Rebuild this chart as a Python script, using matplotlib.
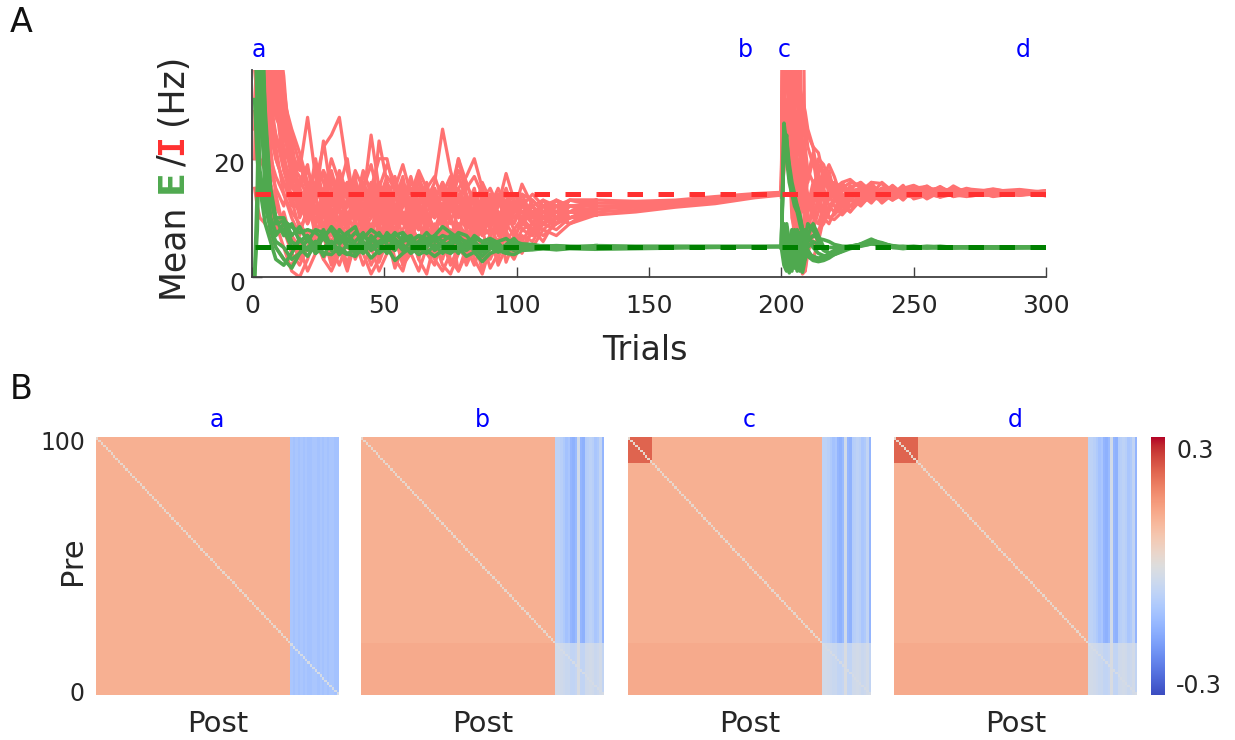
import numpy as np
from matplotlib import pyplot as plt
from matplotlib.transforms import ScaledTranslation

# all trace values below are hand estimates, a thinned
# set of traces (the original has many more). the matrices are built from
# block levels and column stripes that could be read, the cell by cell noise
# of the original could not be read and is left out.

x_early = [1, 2, 3, 5, 7, 9,
           12, 15, 18, 21, 24, 27, 30, 33, 36, 39,
           42, 45, 48, 51, 54, 57, 60, 63, 66, 69,
           72, 75, 78, 81, 84, 87, 90, 93, 96, 99, 102,
           106, 110, 115, 120, 130]
x_tail = [130, 145, 160, 175, 190, 199]
x_post = [200, 201, 202, 203, 204, 205, 206, 207, 208, 209, 210,
          212, 214, 216, 218, 220, 223, 226, 230, 234, 238,
          242, 246, 250, 255, 260, 265, 270, 280, 290, 300]

red_early = [
    [60, 50, 42, 36, 34, 30,
     22, 18, 15, 12, 16, 22, 24, 27, 18, 12,
     9, 14, 12, 7, 11, 16, 9, 13, 8, 12,
     10, 13, 8, 12, 15, 9, 13, 11, 8, 12, 11,
     9, 12, 10, 13, 12],
    [70, 55, 45, 38, 33, 28,
     25, 21, 18, 27, 17, 12, 9, 13, 10, 14,
     12, 8, 11, 14, 9, 12, 15, 10, 13, 16,
     25, 18, 13, 9, 12, 8, 11, 14, 10, 12, 10,
     13, 11, 9, 12, 11],
    [45, 60, 50, 44, 40, 35,
     28, 23, 14, 10, 13, 23, 14, 9, 12, 16,
     13, 24, 15, 10, 8, 12, 15, 11, 9, 13,
     16, 12, 20, 14, 10, 7, 10, 13, 11, 9, 13,
     10, 12, 11, 10, 11],
    [80, 66, 52, 40, 30, 24,
     18, 15, 20, 14, 9, 12, 17, 12, 15, 9,
     14, 10, 23, 16, 12, 10, 13, 8, 15, 11,
     9, 12, 15, 17, 20, 15, 11, 9, 13, 11, 12,
     11, 9, 12, 11, 10.5],
    [30, 38, 50, 36, 22, 14,
     8, 4, 2, 5, 9, 3, 1, 4, 8, 3,
     6, 2, 5, 9, 3, 1, 6, 10, 4, 2,
     7, 3, 1, 5, 2, 6, 1.5, 4, 7, 5, 8,
     7, 9, 8, 10, 10.5],
    [20, 45, 58, 30, 15, 9,
     5, 1, 0, 3, 7, 11, 5, 2, 6, 10,
     4, 0.5, 3, 7, 1.5, 5, 9, 3, 0.5, 6,
     2, 0.5, 4, 8, 3, 0.5, 5, 9, 2.5, 6, 4,
     8, 6, 10, 9, 11],
    [66, 72, 48, 34, 26, 20,
     16, 12, 16, 19, 11, 8, 15, 11, 8, 14,
     10, 15, 20, 20, 14, 9, 12, 15, 11, 8,
     12, 16, 11, 14, 10, 13, 15, 12, 17.5, 13, 9,
     12, 10, 11, 13, 12.5],
    [90, 58, 44, 37, 31, 27,
     24, 20, 13, 9, 15, 18, 10, 15, 20, 11,
     8, 13, 9, 16, 13, 17, 10, 8, 12, 15,
     11, 14, 20, 16, 12, 9, 12, 10, 8, 11, 14,
     10, 13, 12, 11, 11.5],
    [55, 62, 41, 33, 29, 22,
     14, 10, 7, 12, 20, 13, 8, 12, 16, 10,
     15, 12, 7, 10, 14, 10, 8, 17, 13, 10,
     15, 10, 7, 12, 9, 14, 10, 8, 13, 11, 15.7,
     12, 9, 11, 12, 11],
    [75, 68, 58, 45, 42, 38,
     26, 16, 11, 14, 18, 10, 13, 18, 14, 17,
     9, 11, 16, 12, 10, 15, 12, 17, 9, 11,
     14, 17, 13, 10, 14, 11, 8, 12, 14, 10, 11,
     11, 12, 13, 10, 12],
    [100, 80, 60, 50, 45, 36,
     27, 24, 19, 15, 9, 14, 20, 16, 10, 12,
     18, 14, 9, 13, 17, 12, 16, 14, 11, 8,
     10, 12, 17, 13, 8, 12, 14, 10, 9, 12, 10,
     12, 10, 9, 11, 13],
    [25, 40, 30, 18, 12, 8,
     11, 6, 3, 7, 4, 9, 3, 7, 2, 8,
     4, 8, 2.5, 6, 10, 2, 7, 3, 9, 5,
     3, 8, 1, 4, 7, 1, 6, 3, 8, 4, 7,
     6, 9, 11, 9, 12],
    [50, 36, 28, 22, 18, 15,
     12, 17, 10, 13, 7, 11, 14, 8, 11, 7,
     11, 7, 12, 8, 11, 7, 9, 6, 10, 7,
     11, 7, 9, 6, 10, 7, 8, 6, 9, 7, 9,
     8, 10, 9, 11, 11],
    [85, 70, 55, 47, 38, 30,
     21, 13, 8, 11, 14, 7, 10, 6, 13, 9,
     7, 12, 8, 13, 7, 10, 6, 12, 8, 14,
     9, 6, 12, 9, 7, 10, 12, 7, 11, 8, 10,
     7, 10, 13, 12, 12],
    [40, 52, 46, 42, 36, 32,
     24, 19, 17, 13, 19, 16, 12, 17, 13, 18,
     15, 19, 13, 17, 15, 19, 14, 18, 15, 17,
     13, 15, 18, 15, 17, 14, 12, 15, 12, 14, 12,
     14, 12, 11, 13, 13],
    [110, 90, 70, 56, 48, 40,
     30, 25, 21, 16, 14, 18, 15, 11, 16, 13,
     16, 13, 15, 19, 16, 13, 17, 12, 15, 13,
     16, 13, 15, 12, 14, 11, 13, 10, 13, 10, 12,
     10, 11, 12, 12, 12],
    [120, 100, 85, 70, 56, 50,
     32, 22, 13, 9, 12, 10, 14, 11, 9, 11,
     10, 8, 13, 11, 9, 13, 11, 8, 11, 13,
     9, 11, 14, 10, 8, 12, 9, 11, 9, 13, 9,
     11, 10, 12, 10, 11.5],
    [60, 50, 45, 40, 35, 30,
     18, 13, 11, 16, 13, 15, 11, 13, 16, 12,
     14, 11, 12, 15, 10, 14, 10, 13, 16, 10,
     12, 9, 14, 11, 13, 9, 11, 13, 9.5, 11, 13,
     9, 12, 11, 12, 12],
    [45, 40, 35, 32, 28, 24,
     20, 16, 14, 12, 10, 8, 12, 16, 9, 13,
     11, 15, 10, 8, 12, 9, 13, 15, 10, 12,
     14, 10, 11, 8, 11, 13, 9, 14, 12, 9, 12,
     11, 9, 10, 11, 10.5],
    [95, 75, 62, 54, 47, 34,
     26, 22, 12, 15, 11, 14, 9, 10, 13, 15,
     8, 10, 14, 9, 12, 14, 8, 11, 13, 15,
     8, 13, 10, 12, 6, 11, 14, 9, 10, 13, 8,
     9, 11, 12, 13, 13],
    [35, 30, 26, 22, 20, 17,
     14, 11, 9, 7, 6, 8, 11, 7, 9, 6,
     9, 6, 8, 6, 8, 11, 7, 6, 8, 6,
     8, 6, 9, 7, 8, 5, 7, 9, 6, 8, 6,
     9, 8, 10, 11, 10.5],
    [52, 42, 36, 30, 24, 20,
     16, 14, 12, 10, 12, 9, 7, 9, 7, 8,
     7, 9, 6, 10, 7, 8, 11, 9, 6, 9,
     7, 10, 6, 8, 6, 9, 7, 10, 7, 6, 10,
     8, 11, 10, 10, 11],
    [75, 60, 50, 42, 37, 33,
     29, 19, 15, 18, 15, 13, 16, 14, 12, 15,
     12, 16, 14, 11, 15, 13, 11, 15, 12, 14,
     12, 15, 11, 13, 11, 16, 13, 12, 15, 11, 14,
     13, 11, 13, 12, 12.5],
    [110, 85, 72, 60, 52, 44,
     34, 17, 15, 11, 16, 12, 18, 13, 15, 11,
     17, 15, 12, 16, 11, 15, 13, 16, 14, 12,
     14, 11, 13, 16, 12, 13, 10, 14, 11, 13, 11,
     12, 13, 10, 11, 13],
    [15, 12, 10, 9, 7, 5,
     3, 2, 5, 1, 4, 7, 2, 5, 1, 6,
     2, 5, 1, 4, 7, 2, 4, 1, 5, 3,
     1, 4, 7, 2, 5, 3, 7, 2, 5, 3, 6,
     5, 8, 7, 9, 10.5],
    [28, 24, 20, 18, 16, 12,
     9, 7, 5, 8, 6, 3, 6, 9, 5, 4,
     8, 5, 9, 4, 6, 3, 8, 5, 7, 4,
     6, 2, 5, 3, 6, 8, 3, 6, 4, 7, 5,
     8, 7, 9, 10, 11],
]

green_early = [
    [60, 50, 45, 28, 14, 9,
     9.5, 8.5, 7.5, 8, 7.5, 6.5, 8.5, 7, 6, 7.5,
     6.5, 8, 7, 6.5, 7, 7.5, 6, 7, 6.5, 7,
     8.5, 7.5, 6.5, 6, 6.5, 6, 5.5, 6, 6.5, 5.5, 5.5,
     5.2, 5.3, 5.2, 5.1, 5.2],
    [0, 8, 30, 18, 8, 5,
     3, 1.5, 4, 5, 6, 4, 3.8, 5, 4, 3.5,
     5, 3.2, 4.5, 5, 2.8, 4, 5, 3.8, 4.5, 3.5,
     4.5, 4, 5, 3.5, 4.2, 2.6, 4, 4.5, 4, 3.8, 4.5,
     4.6, 4.8, 4.7, 4.9, 4.8],
    [0, 15, 40, 22, 10, 7,
     9, 6, 5, 3.5, 5.5, 6.5, 5, 7, 5, 6,
     7.5, 5, 6, 7, 5, 6.5, 7, 5, 6, 5,
     6, 5, 7, 5.5, 4.5, 5.5, 5, 4.5, 5.5, 6.5, 5,
     5, 5.1, 5.1, 5, 5],
    [80, 70, 60, 26, 15, 10,
     7, 9, 6, 7, 4, 7, 8, 5.5, 7.5, 8.5,
     5, 6.5, 5, 7.5, 6, 4.5, 6, 7, 5, 6.5,
     5, 6, 7.5, 7, 5.5, 5, 6, 5.5, 4.5, 5, 4.8,
     4.9, 5, 4.9, 5, 4.9],
    [30, 20, 15, 9, 6, 3,
     2, 4, 6.5, 4.5, 6, 3.5, 6, 4.5, 3.8, 5,
     4, 5.5, 4, 5, 6, 5.5, 4, 5, 4, 5.5,
     4, 5.5, 4, 6, 5, 3.5, 4.8, 5.2, 4.6, 5.4, 5,
     5.2, 5, 4.9, 5, 5],
    [100, 80, 50, 24, 14, 10,
     10, 7, 8.5, 6, 8, 7.5, 4.5, 8, 6.5, 4.5,
     7, 6, 7.5, 5.5, 4.5, 7, 5.5, 6, 7.5, 6,
     7, 6.5, 5.5, 5, 6, 4.8, 5.5, 4.8, 5.2, 6, 5.6,
     5.5, 5.2, 5.3, 5.2, 5.1],
    [45, 28, 18, 12, 8, 6,
     5, 3, 4, 6.5, 4, 5, 6, 3.8, 5.5, 4,
     6, 4.5, 5.5, 4, 6.5, 5, 4.5, 5.5, 6.5, 4.5,
     5.5, 4.2, 5, 4.5, 5.5, 4.2, 5, 4.2, 5, 4.5, 5,
     4.7, 4.8, 4.6, 4.8, 4.7],
    [70, 44, 32, 14, 10, 7.5,
     8, 5, 6, 7, 5, 8, 5, 6.5, 7.5, 5.5,
     4.5, 7, 5.5, 6, 7.5, 6, 6.5, 4.5, 5.5, 7,
     6, 7, 6, 5, 7, 6, 6.5, 5.8, 4.3, 5, 5.3,
     5, 5.2, 5, 5, 5.3],
]

red_tail = [
    [10.5, 11, 11.8, 12.4, 13.4, 13.8],
    [11, 11.4, 12, 12.8, 13.6, 13.9],
    [12, 12.1, 12.6, 13.1, 13.8, 14.1],
    [13, 12.8, 13, 13.6, 14.1, 14.3],
    [11.5, 11.8, 12.3, 12.9, 13.7, 14],
    [12.5, 12.4, 12.8, 13.3, 13.9, 14.2],
]
green_tail = [
    [4.7, 4.8, 4.9, 5, 5.1, 5.1],
    [5.3, 5.2, 5.2, 5.2, 5.2, 5.2],
    [5, 5, 5.05, 5.1, 5.1, 5.15],
]

red_post = [
    [14, 60, 80, 60, 40, 25, 38, 28, 15, 8, 5,
     9, 13, 17, 19, 17, 13, 11, 13, 14, 15,
     14, 15, 14, 14.5, 14, 15, 14, 14.2, 14, 14.2],
    [14, 40, 70, 90, 34, 33, 31, 40, 60, 15, 4,
     3, 6, 10, 9, 11, 15, 14.5, 15, 14, 13,
     14, 14.5, 15, 14, 14.5, 14, 14.5, 14, 14.5, 14],
    [14, 30, 60, 70, 50, 20, 10, 4, 1, 5, 12,
     15, 16, 13, 10, 10.5, 12, 14, 15, 15.5, 14,
     13, 14, 15, 15.3, 14, 15, 14.5, 14.5, 14.8, 14.3],
    [14, 20, 50, 60, 45, 30, 18, 8, 3, 1, 6,
     14, 17, 15, 12, 11, 13, 15.5, 13, 13.5, 15,
     14.5, 13.5, 14, 15, 13.5, 14, 14.8, 14.2, 13.8, 14.5],
    [13.5, 50, 90, 75, 60, 45, 70, 40, 20, 14, 10,
     8, 11, 15, 17, 15, 11, 13, 14.5, 15, 12.8,
     15, 13.8, 13.5, 14, 14.7, 13.6, 14, 14.6, 14, 14],
    [14, 35, 55, 65, 28, 15, 8, 2, 0.5, 1, 4,
     7, 8, 9, 11, 13, 16, 16.5, 15, 13, 14,
     15.5, 14, 14, 13.5, 15, 14.5, 13.8, 13.8, 14.6, 13.7],
    [14.2, 70, 85, 55, 33, 22, 28, 22, 18, 22, 18,
     16, 17, 14, 13, 15, 14, 12, 13, 16, 15.8,
     13.5, 15, 15.5, 14.5, 13.8, 15.4, 14.2, 14.8, 14.2, 14.6],
    [14, 45, 65, 80, 40, 18, 13, 16, 23, 20, 16,
     20, 14, 11, 14, 16, 14.5, 15, 16, 14.5, 12.5,
     14, 15.5, 13.2, 13.8, 15.2, 14, 13.8, 14.4, 14.5, 14],
    [14, 25, 40, 45, 20, 10, 5, 10, 14, 10, 8,
     12, 15, 18, 14, 12, 10.5, 12, 14, 12.5, 14.5,
     13, 14.5, 14.5, 15.4, 14, 14.3, 15, 13.6, 14.2, 14.4],
    [14, 55, 75, 65, 32, 25, 22, 26, 24, 26, 22,
     19, 19, 17, 16, 14, 15, 13.5, 12, 14, 16,
     14.5, 13, 14.8, 13.2, 14.4, 13.9, 13.6, 14.2, 13.8, 14.2],
    [13.8, 18, 25, 28, 12, 6, 2, 3, 8, 12, 17,
     21, 18, 13, 10, 9.7, 11, 13, 14.5, 16, 13.5,
     14, 14.8, 13.8, 14.2, 13.5, 14.6, 14.4, 14, 14.3, 14.1],
    [14, 65, 78, 50, 36, 31, 35, 32, 30, 28, 25,
     22, 16, 15, 18, 14, 13, 14, 15, 13.2, 14.2,
     15, 14.2, 14.6, 14, 14.8, 13.8, 14.1, 14.9, 14.1, 14.5],
    [14, 80, 90, 70, 50, 40, 36, 30, 26, 25, 24,
     22, 21, 17, 15, 15, 16, 14, 13, 15, 14,
     15, 14, 14.5, 15, 14, 14.5, 14, 14.5, 14, 14.3],
    [14, 60, 70, 55, 30, 28, 25, 20, 15, 12, 11,
     13, 20, 19, 16, 13, 12, 15, 16, 14, 15,
     13.8, 14.5, 15, 13.5, 14.5, 15, 13.7, 14, 14.7, 14],
    [14, 28, 38, 25, 18, 14, 17, 20, 17, 12, 9,
     11, 13, 16, 17, 15, 14, 13, 12.5, 13.5, 13,
     15, 14, 13.5, 14.8, 15, 13.6, 14.6, 14.2, 14, 14.6],
    [14, 42, 50, 34, 22, 16, 20, 15, 11, 16, 14,
     10, 9, 12, 15, 14, 12, 11, 14, 15, 14,
     14.6, 13.3, 14.5, 14, 13.6, 14.7, 14.2, 13.9, 14.4, 13.8],
    [13.8, 22, 30, 20, 10, 8, 12, 17, 21, 15, 12,
     16, 12, 10, 12, 13, 15.5, 14, 14.5, 12.8, 14.8,
     14, 15, 14, 14.2, 15.3, 14, 14.9, 14.5, 14.1, 14.3],
    [14, 75, 88, 68, 44, 38, 30, 24, 18, 10, 7,
     5, 7, 12, 14, 16, 15, 16, 15.5, 15, 13.2,
     14.2, 13.6, 15, 14.6, 14, 14.2, 14.4, 13.7, 14.5, 14.1],
]

green_post = [
    [5, 26, 22, 18, 15, 13, 11.5, 10, 8, 6, 4.5,
     3, 2.8, 3, 3.5, 4, 4.5, 5, 5.5, 6.2, 5.8,
     5.2, 5, 5, 5.1, 5, 5, 5, 5, 5, 5],
    [5, 24, 20, 16, 14, 12, 11, 9, 7, 5, 3.5,
     2.8, 2.6, 2.8, 3.2, 3.8, 4.4, 5, 5.6, 6.4, 5.6,
     5.3, 5, 4.9, 5, 5.1, 5, 5.1, 5, 5, 5],
    [5, 25, 23, 19, 16, 14, 12, 10.5, 8, 6, 4.5,
     3.2, 3, 3.2, 3.8, 4.2, 4.8, 5.2, 5.5, 6, 5.6,
     5, 5, 5.1, 4.9, 5, 5.1, 5, 5.1, 5.1, 5],
    [5, 9, 3, 0.7, 3, 7, 5, 2, 0.8, 3, 7,
     9, 7, 5, 4, 4.5, 5, 5.2, 5.5, 5.8, 5.5,
     5.1, 5.2, 5, 5, 5.2, 5, 5, 5, 5, 5],
    [5, 4, 8.5, 3, 1, 5, 8, 4, 2, 6, 9,
     8, 6, 5, 5, 5, 5.1, 5.2, 5.4, 6, 5.4,
     5, 4.8, 5, 5.1, 5, 4.9, 5, 5, 5, 5.1],
    [5, 2, 1, 5, 8, 3, 1, 5, 8, 6, 5,
     6, 5.5, 4.5, 4, 4, 4.4, 5, 5.4, 5.7, 5.6,
     5.2, 5.1, 5.2, 5, 4.9, 5.1, 5, 5, 5, 5],
    [5, 8, 9, 6, 2, 1.5, 6, 7.5, 4, 3, 6,
     7, 6.5, 6.3, 6, 5.5, 5.2, 5.1, 5.3, 5.6, 5.4,
     5.1, 5, 5, 5.2, 5.1, 5, 5, 4.9, 5, 5],
    [5, 6, 2, 4, 7, 8, 3, 1, 3, 8, 7.5,
     5, 4, 3.6, 3.6, 3.8, 4.3, 4.8, 5.2, 5.6, 5.5,
     5.2, 5, 5, 5, 5, 5, 5, 5, 5, 5.1],
    [5, 22, 24, 17, 15, 13, 12, 10, 7.5, 5.5, 4,
     3.5, 3.2, 3.4, 3.6, 4, 4.6, 5, 5.5, 6, 5.7,
     5.1, 5, 5, 5, 5.1, 5, 5, 5, 5, 5],
]

target_e = 5
target_i = 14
x_ticks = [0, 50, 100, 150, 200, 250, 300]
y_ticks = [0, 20]

panel_names = ['a', 'b', 'c', 'd']
# E block level in ten bands of rows, top to bottom
e_bands = [
    [.125, .125, .125, .125, .125, .125, .125, .125, .125, .125],
    [.125, .125, .125, .125, .125, .125, .125, .125, .135, .135],
    [.125, .125, .125, .125, .125, .125, .125, .125, .135, .135],
    [.125, .125, .125, .125, .125, .125, .125, .125, .135, .135],
]
# the 20 I columns, left to right
i_cols = [
    [-.11, -.12, -.11, -.12, -.11, -.12, -.11, -.12, -.12, -.11,
     -.11, -.12, -.11, -.12, -.11, -.12, -.11, -.11, -.12, -.12],
    [-.07, -.07, -.08, -.10, -.12, -.11, -.15, -.16, -.14, -.03,
     -.15, -.16, -.09, -.08, -.07, -.08, -.11, -.10, -.06, -.15],
    [-.07, -.07, -.08, -.10, -.12, -.11, -.15, -.16, -.14, -.03,
     -.15, -.16, -.09, -.08, -.07, -.08, -.11, -.10, -.06, -.15],
    [-.07, -.07, -.08, -.10, -.12, -.11, -.15, -.16, -.14, -.03,
     -.15, -.16, -.09, -.08, -.07, -.08, -.11, -.10, -.06, -.15],
]
ii_scale = [1, .4, .4, .4]
cluster_level = [None, None, .24, .24]
diag_level = .03
color_lim = .33


def px_x(x):
    return x / 1235


def px_y(y):
    return 1 - y / 740


def add_axes(left, top, right, bottom):
    return fig.add_axes([px_x(left), px_y(bottom), (right - left) / 1235, (bottom - top) / 740])


def build_matrix(i):
    m = np.zeros((100, 100))
    for band, level in enumerate(e_bands[i]):
        m[band * 10:band * 10 + 10, :80] = level
    m[:, 80:] = i_cols[i]
    m[80:, 80:] = m[80:, 80:] * ii_scale[i]
    if cluster_level[i] is not None:
        m[:10, :10] = cluster_level[i]
    for k in range(100):
        m[k, k] = diag_level if k < 80 else -.02
    return m


ink = '#262626'
red = '#ff7272'
green = '#4fa94f'

fig = plt.figure(figsize=(12.35, 7.4), dpi=100)

ax = add_axes(252, 70, 1046, 277)
for y in red_early:
    ax.plot(x_early, y, color=red, lw=2.3)
for y in red_tail:
    ax.plot(x_tail, y, color=red, lw=2.3)
for y in red_post:
    ax.plot(x_post, y, color=red, lw=2.3)
for y in green_early:
    ax.plot(x_early, y, color=green, lw=2.6)
for y in green_tail:
    ax.plot(x_tail, y, color=green, lw=2.6)
for y in green_post:
    ax.plot(x_post, y, color=green, lw=2.6)
ax.plot([1, 300], [target_i, target_i], color='#ff3030', lw=3.6, ls=(0, (3.1, 3.1)), dash_capstyle='butt')
ax.plot([1, 300], [target_e, target_e], color='#008000', lw=3.6, ls=(0, (3.1, 3.1)), dash_capstyle='butt')
ax.set_xlim(0, 300)
ax.set_ylim(0, 35)
ax.set_xticks(x_ticks)
ax.set_yticks(y_ticks)
ax.tick_params(direction='in', length=7, width=1, color='#404040', labelsize=18, labelcolor=ink)
ax.tick_params(axis='x', pad=12)
ax.tick_params(axis='y', pad=5)
for lab in ax.get_yticklabels():
    lab.set_transform(lab.get_transform() + ScaledTranslation(0, -.04, fig.dpi_scale_trans))
ax.spines['top'].set_visible(False)
ax.spines['right'].set_visible(False)
ax.spines['left'].set_color('#404040')
ax.spines['bottom'].set_color('#404040')
ax.spines['left'].set_linewidth(1.3)
ax.spines['bottom'].set_linewidth(1.3)

fig.text(px_x(645), px_y(351), 'Trials', fontsize=24, color=ink, ha='center', va='center')

fig.text(px_x(172), px_y(298), 'Mean', fontsize=25, color=ink, rotation=90, ha='center', va='bottom')
fig.text(px_x(172), px_y(193), 'E', fontsize=25, color=green, weight='bold', rotation=90, ha='center', va='bottom')
fig.text(px_x(172), px_y(166), '/', fontsize=25, color=ink, rotation=90, ha='center', va='bottom')
fig.text(px_x(172), px_y(155), 'I', fontsize=25, color='#ff3030', family='DejaVu Sans Mono', weight='bold',
         rotation=90, ha='center', va='bottom')
fig.text(px_x(172), px_y(125), '(Hz)', fontsize=25, color=ink, rotation=90, ha='center', va='bottom')

for name, x in zip(panel_names, [259, 745, 784, 1023]):
    fig.text(px_x(x), px_y(50), name, fontsize=17, color='#0000ff', ha='center', va='center')

fig.text(px_x(21), px_y(22), 'A', fontsize=24, color='#111111', ha='center', va='center')
fig.text(px_x(21), px_y(390), 'B', fontsize=24, color='#111111', ha='center', va='center')

lefts = [96, 361, 628, 894]
for i in range(4):
    hm = add_axes(lefts[i], 437, lefts[i] + 243, 695)
    im = hm.imshow(build_matrix(i), cmap='coolwarm', vmin=-color_lim, vmax=color_lim,
                   extent=[0, 100, 0, 100], aspect='auto', interpolation='nearest')
    hm.set_xticks([])
    if i == 0:
        hm.set_yticks([1.5, 98.5])
        hm.set_yticklabels(['0', '100'])
        hm.tick_params(axis='y', length=0, labelsize=17, labelcolor=ink, pad=8)
    else:
        hm.set_yticks([])
    for s in hm.spines.values():
        s.set_visible(False)
    fig.text(px_x(lefts[i] + 121), px_y(420), panel_names[i], fontsize=17, color='#0000ff', ha='center', va='center')
    fig.text(px_x(lefts[i] + 122), px_y(724), 'Post', fontsize=21, color=ink, ha='center', va='center')

fig.text(px_x(72), px_y(561), 'Pre', fontsize=22, color=ink, rotation=90, ha='center', va='center')

cax = add_axes(1151, 437, 1165, 695)
cb = fig.colorbar(im, cax=cax)
cb.set_ticks([-.3, .3])
cb.set_ticklabels(['-0.3', '0.3'])
cb.ax.tick_params(length=0, labelsize=17, labelcolor=ink, pad=8)
cb.outline.set_visible(False)

fig.savefig('out.png', dpi=100)
